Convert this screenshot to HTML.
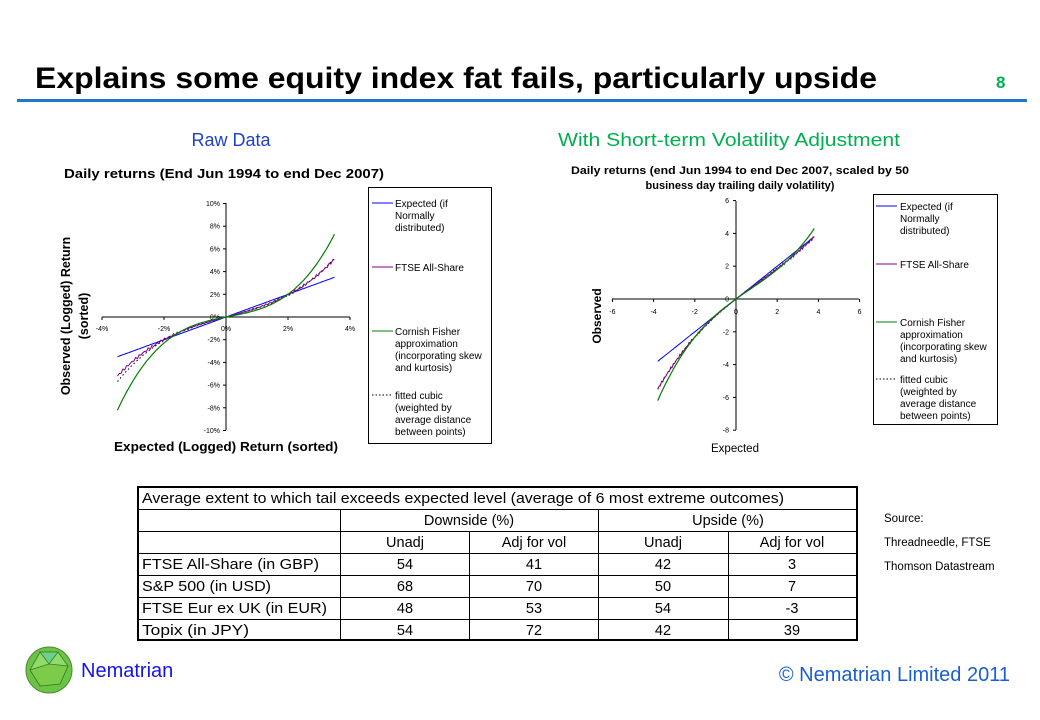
<!DOCTYPE html>
<html><head><meta charset="utf-8"><style>
html,body{margin:0;padding:0;background:#fff;}
svg{display:block;font-family:"Liberation Sans",Arial,sans-serif;}
</style></head><body>
<svg id="s" width="1040" height="720" viewBox="0 0 1040 720" xmlns="http://www.w3.org/2000/svg">
<rect width="1040" height="720" fill="#fff"/>
<text x="35" y="88" font-size="30" font-weight="bold" textLength="842" lengthAdjust="spacingAndGlyphs">Explains some equity index fat fails, particularly upside</text>
<text x="996" y="88" font-size="17" font-weight="bold" fill="#00b050">8</text>
<rect x="17" y="99" width="1010" height="3" fill="#1f78c8"/>
<text x="231" y="146" font-size="18" fill="#1f3fcf" text-anchor="middle">Raw Data</text>
<text x="558" y="146" font-size="18" fill="#00b050" textLength="342" lengthAdjust="spacingAndGlyphs">With Short-term Volatility Adjustment</text>

<!-- Left chart -->
<text x="64" y="178" font-size="12.5" font-weight="bold" textLength="320" lengthAdjust="spacingAndGlyphs">Daily returns (End Jun 1994 to end Dec 2007)</text>
<g font-size="12.5" font-weight="bold">
<text transform="translate(70,316) rotate(-90)" text-anchor="middle">Observed (Logged) Return</text>
<text transform="translate(88,316) rotate(-90)" text-anchor="middle">(sorted)</text>
<text x="226" y="451" text-anchor="middle" textLength="224" lengthAdjust="spacingAndGlyphs">Expected (Logged) Return (sorted)</text>
</g>
<g stroke="#000" stroke-width="1">
<line x1="226" y1="203" x2="226" y2="430"/>
<line x1="102" y1="317" x2="350" y2="317"/>
</g>
<g id="lt" font-size="7" fill="#000"></g>
<g id="lc" fill="none"></g>
<rect x="368.5" y="187.5" width="123" height="256" fill="none" stroke="#000"/>
<g font-size="10" fill="#000">
<line x1="372" y1="203" x2="393" y2="203" stroke="#0000ff"/>
<text x="395" y="207">Expected (if</text><text x="395" y="219">Normally</text><text x="395" y="231">distributed)</text>
<line x1="372" y1="267" x2="393" y2="267" stroke="#800080"/>
<text x="395" y="271">FTSE All-Share</text>
<line x1="372" y1="331" x2="393" y2="331" stroke="#008000"/>
<text x="395" y="335">Cornish Fisher</text><text x="395" y="347">approximation</text><text x="395" y="359">(incorporating skew</text><text x="395" y="371">and kurtosis)</text>
<line x1="372" y1="395" x2="393" y2="395" stroke="#000" stroke-dasharray="1.5,2"/>
<text x="395" y="399">fitted cubic</text><text x="395" y="411">(weighted by</text><text x="395" y="423">average distance</text><text x="395" y="435">between points)</text>
</g>

<!-- Right chart -->
<g font-size="11" font-weight="bold">
<text x="740" y="174" text-anchor="middle" textLength="338" lengthAdjust="spacingAndGlyphs">Daily returns (end Jun 1994 to end Dec 2007, scaled by 50</text>
<text x="740" y="189" text-anchor="middle">business day trailing daily volatility)</text>
<text transform="translate(601,316) rotate(-90)" text-anchor="middle" font-size="12">Observed</text>
</g>
<text x="735" y="452" font-size="11.5" text-anchor="middle">Expected</text>
<g stroke="#000" stroke-width="1">
<line x1="736" y1="201" x2="736" y2="430"/>
<line x1="612" y1="299" x2="859" y2="299"/>
</g>
<g id="rt" font-size="7" fill="#000"></g>
<g id="rc" fill="none"></g>
<rect x="873.5" y="194.5" width="124" height="230" fill="none" stroke="#000"/>
<g font-size="10" fill="#000">
<line x1="876" y1="206" x2="897" y2="206" stroke="#0000ff"/>
<text x="900" y="210">Expected (if</text><text x="900" y="222">Normally</text><text x="900" y="234">distributed)</text>
<line x1="876" y1="264" x2="897" y2="264" stroke="#800080"/>
<text x="900" y="268">FTSE All-Share</text>
<line x1="876" y1="322" x2="897" y2="322" stroke="#008000"/>
<text x="900" y="326">Cornish Fisher</text><text x="900" y="338">approximation</text><text x="900" y="350">(incorporating skew</text><text x="900" y="362">and kurtosis)</text>
<line x1="876" y1="379" x2="897" y2="379" stroke="#000" stroke-dasharray="1.5,2"/>
<text x="900" y="383">fitted cubic</text><text x="900" y="395">(weighted by</text><text x="900" y="407">average distance</text><text x="900" y="419">between points)</text>
</g>

<!-- Table -->
<g stroke="#000" stroke-width="1">
<line x1="138" y1="509.5" x2="857" y2="509.5"/>
<line x1="138" y1="531.5" x2="857" y2="531.5"/>
<line x1="138" y1="553.5" x2="857" y2="553.5"/>
<line x1="138" y1="575.5" x2="857" y2="575.5"/>
<line x1="138" y1="597.5" x2="857" y2="597.5"/>
<line x1="138" y1="619.5" x2="857" y2="619.5"/>
<line x1="340.5" y1="509" x2="340.5" y2="641"/>
<line x1="598.5" y1="509" x2="598.5" y2="641"/>
<line x1="469.5" y1="531" x2="469.5" y2="641"/>
<line x1="728.5" y1="531" x2="728.5" y2="641"/>
</g>
<rect x="138" y="487" width="719" height="153" fill="none" stroke="#000" stroke-width="2"/>
<g font-size="14.5" fill="#000">
<text x="142" y="503" textLength="642" lengthAdjust="spacingAndGlyphs">Average extent to which tail exceeds expected level (average of 6 most extreme outcomes)</text>
<text x="469" y="525" text-anchor="middle">Downside (%)</text>
<text x="728" y="525" text-anchor="middle">Upside (%)</text>
<g text-anchor="middle">
<text x="405" y="547">Unadj</text><text x="534" y="547">Adj for vol</text><text x="663" y="547">Unadj</text><text x="792" y="547">Adj for vol</text>
<text x="405" y="569">54</text><text x="534" y="569">41</text><text x="663" y="569">42</text><text x="792" y="569">3</text>
<text x="405" y="591">68</text><text x="534" y="591">70</text><text x="663" y="591">50</text><text x="792" y="591">7</text>
<text x="405" y="613">48</text><text x="534" y="613">53</text><text x="663" y="613">54</text><text x="792" y="613">-3</text>
<text x="405" y="635">54</text><text x="534" y="635">72</text><text x="663" y="635">42</text><text x="792" y="635">39</text>
</g>
<text x="142" y="569" textLength="177" lengthAdjust="spacingAndGlyphs">FTSE All-Share (in GBP)</text>
<text x="142" y="591" textLength="129" lengthAdjust="spacingAndGlyphs">S&amp;P 500 (in USD)</text>
<text x="142" y="613" textLength="185" lengthAdjust="spacingAndGlyphs">FTSE Eur ex UK (in EUR)</text>
<text x="142" y="635" textLength="107" lengthAdjust="spacingAndGlyphs">Topix (in JPY)</text>
</g>
<g font-size="11.5" fill="#000">
<text x="884" y="522">Source:</text>
<text x="884" y="546">Threadneedle,  FTSE</text>
<text x="884" y="570">Thomson Datastream</text>
</g>

<!-- Footer -->
<g>
<circle cx="49" cy="670" r="23" fill="#6cc444"/>
<polygon points="40,652 58,652 68,666 60,684 40,686 30,670" fill="#8fdc6a" stroke="#3a7a28" stroke-width="0.8"/>
<polygon points="40,652 49,664 58,652" fill="#6fd08a" stroke="#3a7a28" stroke-width="0.8"/>
<polygon points="30,670 49,664 68,666 60,684 40,686" fill="#7ccc4a" stroke="#3a7a28" stroke-width="0.8"/>
<circle cx="49" cy="670" r="23" fill="none" stroke="#4a8a30" stroke-width="1"/>
</g>
<text x="81" y="677" font-size="20" fill="#1414e6">Nematrian</text>
<text x="1010" y="681" font-size="20" fill="#1a5fd0" text-anchor="end">© Nematrian Limited 2011</text>

<script>
(function(){
var NS="http://www.w3.org/2000/svg";
function el(p,n,a,t){var e=document.createElementNS(NS,n);for(var k in a)e.setAttribute(k,a[k]);if(t!==undefined)e.textContent=t;p.appendChild(e);return e;}
var lt=document.getElementById('lt');
for(var v=10;v>=-10;v-=2){var y=317-v*11.35;el(lt,'text',{x:220,y:y+2.5,'text-anchor':'end'},v+'%');el(lt,'line',{x1:223,y1:y,x2:226,y2:y,stroke:'#000'});}
[-4,-2,0,2,4].forEach(function(v){var x=226+v*31;el(lt,'text',{x:x,y:331,'text-anchor':'middle'},v+'%');el(lt,'line',{x1:x,y1:317,x2:x,y2:320,stroke:'#000'});});
var rt=document.getElementById('rt');
for(var v=6;v>=-8;v-=2){var y=299-v*16.4;el(rt,'text',{x:729,y:y+2.5,'text-anchor':'end'},v);el(rt,'line',{x1:733,y1:y,x2:736,y2:y,stroke:'#000'});}
[-6,-4,-2,0,2,4,6].forEach(function(v){var x=736+v*20.6;el(rt,'text',{x:x,y:314,'text-anchor':'middle'},v);el(rt,'line',{x1:x,y1:299,x2:x,y2:302,stroke:'#000'});});
function curve(g,f,x0,x1,ox,oy,sx,sy,attrs,noise){
 var d='',n=120;for(var i=0;i<=n;i++){var x=x0+(x1-x0)*i/n;var y=f(x);if(noise)y+=noise*Math.sin(i*2.7)*Math.min(1,Math.abs(x)/2);d+=(i?'L':'M')+(ox+x*sx).toFixed(1)+','+(oy-y*sy).toFixed(1);}
 attrs.d=d;el(g,'path',attrs);}
var lc=document.getElementById('lc');
var L={ox:226,oy:317,sx:31,sy:11.35};
curve(lc,function(x){return 0.72*x-0.02*x*x+0.0682*x*x*x;},-3.5,3.5,L.ox,L.oy,L.sx,L.sy,{stroke:'#000','stroke-dasharray':'1.5,2.5','stroke-width':1},0);
curve(lc,function(x){return x;},-3.5,3.5,L.ox,L.oy,L.sx,L.sy,{stroke:'#0000ff','stroke-width':1});
curve(lc,function(x){return 0.75*x-0.004*x*x+0.0589*x*x*x;},-3.5,3.5,L.ox,L.oy,L.sx,L.sy,{stroke:'#800080','stroke-width':1},0.12);
curve(lc,function(x){return 0.5203*x-0.0367*x*x+0.1383*x*x*x;},-3.5,3.5,L.ox,L.oy,L.sx,L.sy,{stroke:'#008000','stroke-width':1.2});
var rc=document.getElementById('rc');
var R={ox:736,oy:299,sx:20.6,sy:16.4};
curve(rc,function(x){return 0.974*x-0.0589*x*x+0.0173*x*x*x;},-3.8,3.8,R.ox,R.oy,R.sx,R.sy,{stroke:'#000','stroke-dasharray':'1.5,2.5'},0);
curve(rc,function(x){return x;},-3.8,3.8,R.ox,R.oy,R.sx,R.sy,{stroke:'#0000ff'});
curve(rc,function(x){return 0.974*x-0.0589*x*x+0.0173*x*x*x;},-3.8,3.8,R.ox,R.oy,R.sx,R.sy,{stroke:'#800080'},0.08);
curve(rc,function(x){return 0.897*x-0.0658*x*x+0.0335*x*x*x;},-3.8,3.8,R.ox,R.oy,R.sx,R.sy,{stroke:'#008000','stroke-width':1.2});
})();
</script>
</svg>
</body></html>
